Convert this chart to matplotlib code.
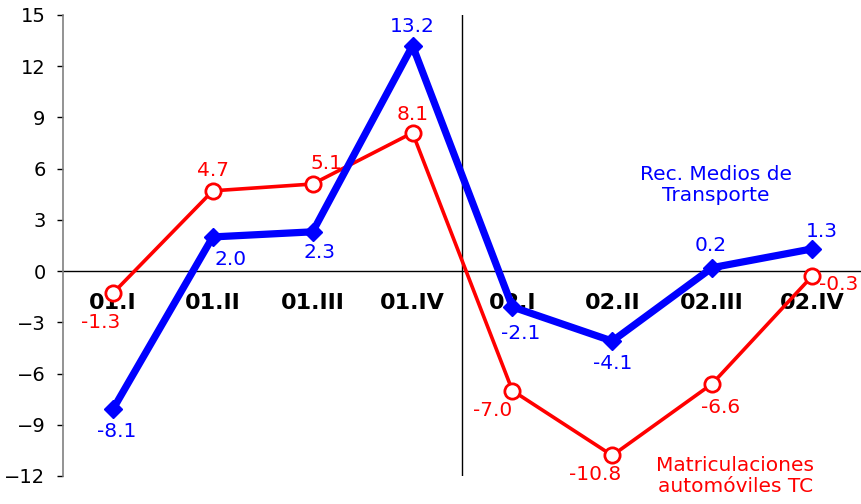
import numpy as np
import matplotlib
matplotlib.use("Agg")
import matplotlib.pyplot as plt

# data
quarters = ["01.I", "01.II", "01.III", "01.IV", "02.I", "02.II", "02.III", "02.IV"]
transporte = [-8.1, 2.0, 2.3, 13.2, -2.1, -4.1, 0.2, 1.3]
matriculaciones = [-1.3, 4.7, 5.1, 8.1, -7.0, -10.8, -6.6, -0.3]
y_ticks = [-12, -9, -6, -3, 0, 3, 6, 9, 12, 15]

# label offsets in points (layout only)
blue_offsets = [(3, -16), (13, -16), (5, -15), (0, 13.5), (6, -19), (0, -16), (-1, 16), (7, 12.5)]
red_offsets = [(-9, -21), (0, 15), (10, 15), (0, 13), (-14, -14), (-12, -14), (6, -17), (19, -6)]

BLUE = "#0000ff"
RED = "#ff0000"

fig = plt.figure(figsize=(8.62, 5.04), dpi=100)
ax = fig.add_axes([0.073, 0.0556, 0.927, 0.9147])

x = np.arange(len(quarters)) + 0.5

ax.plot(x, matriculaciones, color=RED, lw=2.6, marker="o", ms=11,
        mfc="white", mec=RED, mew=2, zorder=3)
ax.plot(x, transporte, color=BLUE, lw=5.2, marker="D", ms=9.5,
        mfc=BLUE, mec=BLUE, zorder=4)

for xi, v, off in zip(x, transporte, blue_offsets):
    ax.annotate(f"{v:.1f}", (xi, v), xytext=off, textcoords="offset points",
                ha="center", va="center", color=BLUE, fontsize=14.5, zorder=5)
for xi, v, off in zip(x, matriculaciones, red_offsets):
    ax.annotate(f"{v:.1f}", (xi, v), xytext=off, textcoords="offset points",
                ha="center", va="center", color=RED, fontsize=14.5, zorder=5)

# category labels sit just under the zero line, beneath the lines
for xi, q in zip(x, quarters):
    ax.text(xi, -1.87, q, ha="center", va="center", fontsize=16,
            fontweight="bold", color="black", zorder=2)

ax.axhline(0, color="black", lw=1, zorder=1)
ax.axvline(4, color="black", lw=1, zorder=1)

ax.text(6.54, 5.06, "Rec. Medios de\nTransporte", ha="center", va="center",
        color=BLUE, fontsize=14.5, linespacing=1.15)
ax.text(6.73, -12.0, "Matriculaciones\nautomóviles TC", ha="center", va="center",
        color=RED, fontsize=14.5, linespacing=1.15, clip_on=False)

ax.set_xlim(0, 8)
ax.set_ylim(-12, 15)
ax.set_yticks(y_ticks)
ax.set_xticks([])
ax.tick_params(axis="y", labelsize=14, length=4.5, width=1, color="black", pad=8)
for side in ["top", "right", "bottom"]:
    ax.spines[side].set_visible(False)
ax.spines["left"].set_color("#808080")
ax.spines["left"].set_linewidth(1.2)

fig.savefig("out.png", dpi=100)
